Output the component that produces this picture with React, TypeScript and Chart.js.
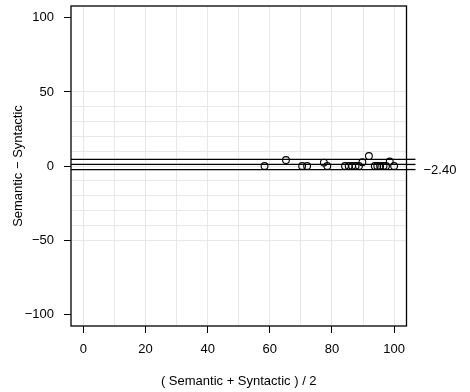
import React, { useEffect, useRef } from 'react';
import { Chart, registerables } from 'chart.js';

Chart.register(...registerables);

// Bland-Altman data: mean of the two methods (x) and their difference (y)
const meanValues = [58.3, 65.2, 70.4, 72.0, 77.4, 78.5, 84.2, 85.4, 86.5, 87.6, 88.7, 89.8, 91.9, 93.8, 94.6, 95.5, 96.6, 97.4, 98.6, 100.0];
const diffValues = [0, 4.0, 0, 0, 2.3, 0, 0, 0, 0, 0, 0, 2.5, 6.7, 0, 0, 0, 0, 0, 3.0, 0];

// lower limit, mean difference, upper limit
const limitValues = [-2.4, 1.05, 4.5];
const limitLabels = ['−2.40', '1.05', '4.50'];

const xTickValues = [0, 20, 40, 60, 80, 100];
const xGridValues = [0, 10, 20, 30, 40, 50, 60, 70, 80, 90, 100];
const yTickValues = [-100, -50, 0, 50, 100];
const yGridValues = [-50, -40, -30, -20, -10, 0, 10, 20, 30, 40, 50];

const xTitle = '( Semantic + Syntactic ) / 2';
const yTitle = 'Semantic − Syntactic';

const FONT = "'Liberation Sans', Arial, Helvetica, sans-serif";
const GRID = '#e8e8e8';
const INK = '#000000';

const fmt = (v: number) => String(v).replace('-', '−');

export default function App() {
  const ref = useRef<HTMLCanvasElement | null>(null);

  useEffect(() => {
    if (!ref.current) return;
    const boxPlugin = {
      id: 'boxPlugin',
      afterDraw(chart: any) {
        const { ctx, chartArea } = chart;
        const ys = chart.scales.y;
        ctx.save();
        ctx.strokeStyle = INK;
        ctx.lineWidth = 1.3;
        ctx.strokeRect(chartArea.left, chartArea.top, chartArea.right - chartArea.left, chartArea.bottom - chartArea.top);
        // right side ticks for the limits
        ctx.lineWidth = 1.3;
        ctx.font = `13px ${FONT}`;
        ctx.fillStyle = INK;
        ctx.textAlign = 'left';
        ctx.textBaseline = 'middle';
        let lastY: number | null = null;
        limitValues.forEach((v, i) => {
          const y = ys.getPixelForValue(v);
          ctx.beginPath();
          ctx.moveTo(chartArea.right, y);
          ctx.lineTo(chartArea.right + 9, y);
          ctx.stroke();
          if (lastY === null || Math.abs(lastY - y) > 17) {
            ctx.fillText(limitLabels[i], chartArea.right + 17, y + 1);
            lastY = y;
          }
        });
        ctx.restore();
      },
    };

    const lineSets = limitValues.map((v) => ({
      type: 'line' as const,
      data: [
        { x: -4, y: v },
        { x: 104, y: v },
      ],
      borderColor: INK,
      borderWidth: 1.3,
      pointRadius: 0,
      showLine: true,
      fill: false,
    }));

    const chart = new Chart(ref.current, {
      type: 'scatter',
      data: {
        datasets: [
          {
            data: meanValues.map((x, i) => ({ x, y: diffValues[i] })),
            pointStyle: 'circle',
            pointRadius: 3.4,
            borderColor: INK,
            backgroundColor: 'rgba(0,0,0,0)',
            borderWidth: 1.1,
          } as any,
          ...lineSets,
        ],
      },
      options: {
        responsive: false,
        animation: false,
        layout: { padding: { top: 6, right: 63.5, left: 0, bottom: 0 } },
        plugins: { legend: { display: false }, tooltip: { enabled: false } },
        scales: {
          x: {
            type: 'linear',
            min: -4,
            max: 104,
            afterBuildTicks: (scale: any) => {
              scale.ticks = xGridValues.map((v) => ({ value: v }));
            },
            afterFit: (scale: any) => {
              scale.height = 66;
              scale.paddingLeft = 0;
              scale.paddingRight = 0;
            },
            grid: {
              color: (c: any) => (c.tick && xGridValues.includes(c.tick.value) ? GRID : 'rgba(0,0,0,0)'),
              tickColor: (c: any) => (c.tick && xTickValues.includes(c.tick.value) ? INK : 'rgba(0,0,0,0)'),
              tickLength: 7,
              lineWidth: 1,
              tickWidth: 1,
            },
            border: { display: false },
            ticks: {
              autoSkip: false,
              maxRotation: 0,
              padding: 9,
              color: INK,
              font: { family: FONT, size: 13 },
              callback: (v: any) => (xTickValues.includes(Number(v)) ? fmt(Number(v)) : ''),
            },
            title: {
              display: true,
              text: xTitle,
              color: INK,
              font: { family: FONT, size: 13 },
              padding: { top: 0, bottom: 2.5 },
            },
          },
          y: {
            type: 'linear',
            min: -108,
            max: 108,
            afterBuildTicks: (scale: any) => {
              const all = Array.from(new Set([...yTickValues, ...yGridValues])).sort((a, b) => a - b);
              scale.ticks = all.map((v) => ({ value: v }));
            },
            afterFit: (scale: any) => {
              scale.width = 71;
              scale.paddingTop = 0;
              scale.paddingBottom = 0;
            },
            grid: {
              color: (c: any) => (c.tick && yGridValues.includes(c.tick.value) ? GRID : 'rgba(0,0,0,0)'),
              tickColor: (c: any) => (c.tick && yTickValues.includes(c.tick.value) ? INK : 'rgba(0,0,0,0)'),
              tickLength: 7,
              lineWidth: 1,
              tickWidth: 1,
            },
            border: { display: false },
            ticks: {
              autoSkip: false,
              padding: 10,
              color: INK,
              font: { family: FONT, size: 13 },
              callback: (v: any) => (yTickValues.includes(Number(v)) ? fmt(Number(v)) : ''),
            },
            title: {
              display: true,
              text: yTitle,
              color: INK,
              font: { family: FONT, size: 13 },
              padding: { top: 11, bottom: 0 },
            },
          },
        },
      },
      plugins: [boxPlugin],
    } as any);

    return () => chart.destroy();
  }, []);

  return (
    <div style={{ position: 'absolute', left: 0, top: 0, width: 470, height: 392, background: '#fff' }}>
      <canvas ref={ref} width={470} height={392} style={{ display: 'block' }} />
    </div>
  );
}
